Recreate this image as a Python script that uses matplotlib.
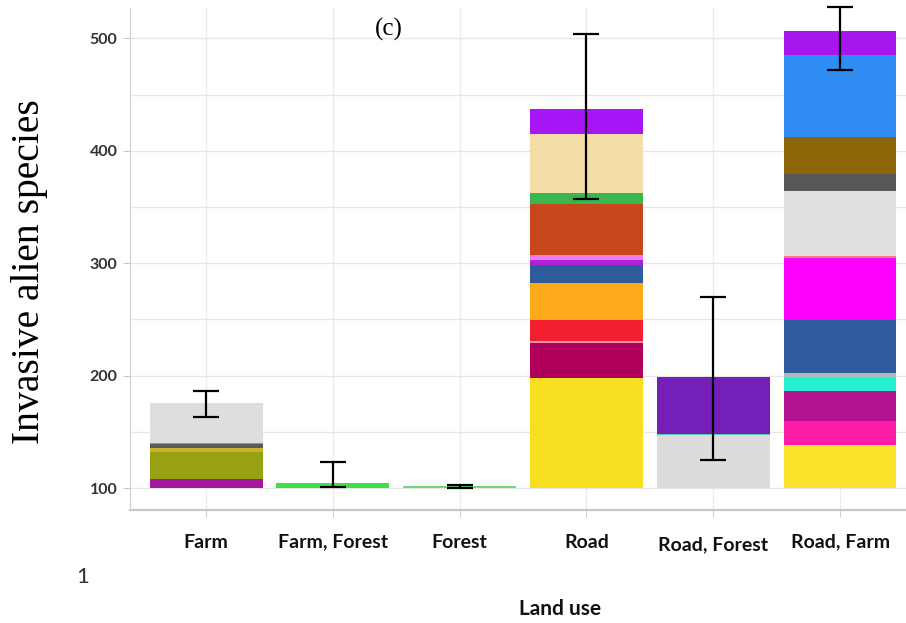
import numpy as np
import matplotlib.pyplot as plt

# land-use categories along the x axis
categories = ["Farm", "Farm, Forest", "Forest", "Road", "Road, Forest", "Road, Farm"]
baseline = 100

# cumulative top of each stacked segment, bottom to top
farm_tops = [107.7, 132.0, 135.5, 139.3, 140.3, 175.3]
farm_forest_tops = [104.3]
forest_tops = [102.0]
road_tops = [197.5, 229.5, 231.0, 249.3, 282.0, 298.2, 302.7, 307.1, 353.0, 362.8, 414.7, 437.0]
road_forest_tops = [147.0, 148.3, 199.0]
road_farm_tops = [138.2, 159.8, 186.5, 198.9, 202.5, 249.3, 305.0, 306.2, 364.0, 379.7, 412.3, 484.9, 506.5]

# error bar ends (low, high)
err_low = [163.0, 101.0, 100.0, 357.5, 125.0, 471.5]
err_high = [186.5, 122.8, 102.5, 503.6, 270.0, 527.7]

farm_colors = ["#a3189c", "#96a212", "#c9b22a", "#5b5959", "#8c8cd8", "#dedede"]
farm_forest_colors = ["#3ee04a"]
forest_colors = ["#6fd872"]
road_colors = ["#f8df22", "#b0005c", "#f48fb0", "#f2202f", "#fcaa1a", "#2e5c9a",
               "#b020d8", "#f07cf0", "#c8461c", "#38b84c", "#f3dda6", "#a815f5"]
road_forest_colors = ["#dcdcdc", "#5cc8b0", "#7420b8"]
road_farm_colors = ["#fce22a", "#fc1ca8", "#b3138f", "#25f0d0", "#b0b8c0", "#2f5c9c",
                    "#fe00fe", "#f08080", "#e0e0e0", "#585858", "#8b6508", "#2e8cf2", "#a617f0"]

all_tops = [farm_tops, farm_forest_tops, forest_tops, road_tops, road_forest_tops, road_farm_tops]
all_colors = [farm_colors, farm_forest_colors, forest_colors, road_colors,
              road_forest_colors, road_farm_colors]

fig = plt.figure(figsize=(9.06, 6.23), dpi=100)
ax = fig.add_axes([0.1435, 0.1814, 0.8565, 0.8056])

x = np.arange(len(categories))
width = 0.89
for i, (tops, cols) in enumerate(zip(all_tops, all_colors)):
    bottoms = [baseline] + tops[:-1]
    heights = np.array(tops) - np.array(bottoms)
    for b, h, c in zip(bottoms, heights, cols):
        ax.bar(x[i], h, width, bottom=b, color=c, linewidth=0, zorder=2)

lo = np.array(err_low)
hi = np.array(err_high)
eb = ax.errorbar(x, (lo + hi) / 2, yerr=(hi - lo) / 2, fmt="none", ecolor="black",
                 elinewidth=1.6, capsize=9.5, capthick=1.6, zorder=3)
for art in eb.lines[1] + eb.lines[2]:
    art.set_clip_on(False)

ax.set_xlim(-0.6, 5.52)
ax.set_ylim(80.5, 527)
ax.set_yticks([100, 200, 300, 400, 500])
ax.set_yticks([150, 250, 350, 450], minor=True)
ax.set_xticks(x)
ax.set_xticklabels(categories)

ax.grid(True, which="both", axis="y", color="#e6e6e6", linewidth=1.0, zorder=0)
ax.grid(True, which="major", axis="x", color="#ececec", linewidth=1.0, zorder=0)
ax.set_axisbelow(True)

for s in ["top", "right"]:
    ax.spines[s].set_visible(False)
ax.spines["left"].set_color("#d0d0d0")
ax.spines["bottom"].set_color("#c8c8c8")
ax.spines["bottom"].set_linewidth(1.6)

ax.tick_params(axis="y", which="major", length=5, color="#c8c8c8", pad=4,
               labelsize=11.5, labelcolor="#333333")
ax.tick_params(axis="y", which="minor", length=0)
ax.tick_params(axis="x", length=5, color="#d0d0d0", pad=12, labelsize=14, labelcolor="#111111")
for lab in ax.get_yticklabels() + ax.get_xticklabels():
    lab.set_fontfamily("Lato")
    lab.set_fontweight("bold")
# "Road, Forest" sits a touch lower than the others
ax.get_xticklabels()[4].set_y(-0.005)

fig.text(30 / 906, 1 - 272 / 623, "Invasive alien species", rotation=90,
         ha="center", va="center", fontsize=28.5, family="Liberation Serif")
fig.text(389 / 906, 1 - 29 / 623, "(c)", ha="center", va="center", fontsize=18,
         family="Liberation Serif")
fig.text(83 / 906, 1 - 577 / 623, "1", ha="center", va="center", fontsize=16,
         family="Lato", color="#333333")
fig.text(560 / 906, 1 - 609 / 623, "Land use", ha="center", va="center", fontsize=15,
         family="Lato", fontweight="bold", color="#111111")

fig.savefig("out.png", dpi=100)
